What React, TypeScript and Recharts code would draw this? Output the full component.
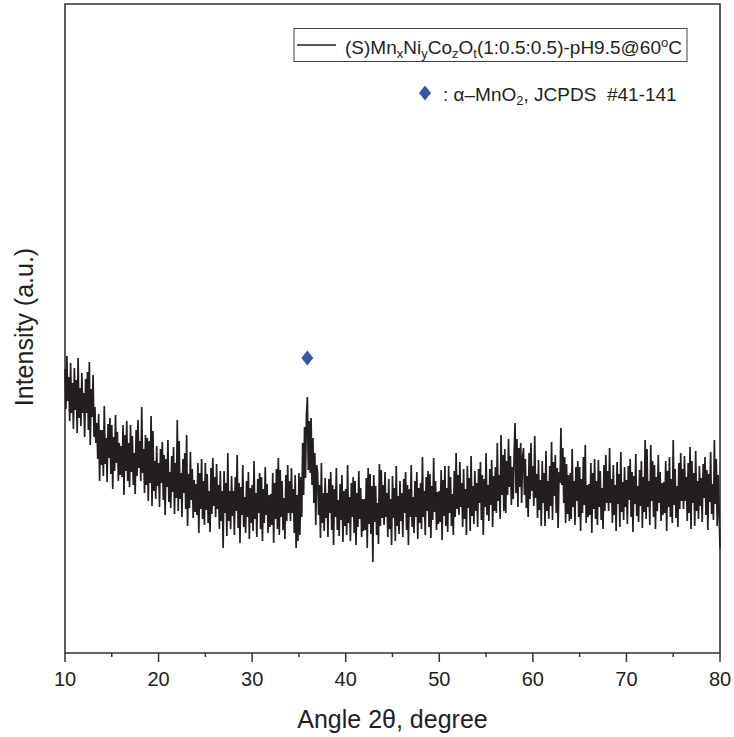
import React from "react";
import { ComposedChart, Line, XAxis, YAxis, ReferenceArea, ReferenceDot } from "recharts";

// Angle grid of the scan (degrees 2θ)
const angleStart = 10;
const angleStep = 0.1;

// Intensity (arbitrary units), one row per degree (x.0 … x.9)
const intensity: number[] = [
  284, 244, 297, 252, 276, 232, 290, 240, 270, 224,
  285, 243, 273, 220, 295, 235, 265, 227, 280, 240,
  260, 216, 274, 240, 281, 223, 291, 208, 264, 236,
  278, 216, 246, 210, 230, 194, 239, 172, 223, 188,
  223, 177, 247, 189, 215, 171, 229, 195, 235, 179,
  228, 164, 216, 182, 238, 190, 221, 172, 210, 178,
  207, 176, 228, 158, 218, 182, 232, 172, 210, 166,
  228, 181, 217, 168, 200, 159, 223, 177, 233, 185,
  212, 172, 246, 180, 204, 160, 218, 168, 215, 152,
  212, 170, 237, 147, 222, 162, 192, 154, 207, 167,
  190, 146, 204, 170, 211, 153, 198, 138, 194, 166,
  213, 151, 181, 145, 197, 161, 206, 139, 190, 155,
  233, 142, 212, 154, 180, 136, 194, 160, 200, 144,
  218, 127, 179, 145, 201, 153, 184, 135, 173, 141,
  169, 138, 190, 120, 180, 144, 194, 134, 172, 128,
  190, 143, 179, 130, 162, 121, 185, 139, 195, 147,
  176, 136, 189, 144, 168, 124, 182, 132, 162, 105,
  182, 140, 170, 117, 200, 132, 162, 124, 177, 137,
  162, 118, 176, 142, 198, 125, 170, 110, 166, 138,
  188, 126, 156, 120, 172, 136, 181, 114, 165, 130,
  168, 122, 192, 134, 160, 116, 174, 140, 180, 124,
  176, 112, 164, 130, 186, 138, 169, 120, 158, 126,
  159, 128, 180, 110, 170, 134, 184, 124, 195, 118,
  183, 136, 172, 123, 155, 114, 178, 132, 188, 140,
  172, 132, 185, 140, 164, 120, 178, 105, 158, 112,
  180, 118, 176, 136, 210, 158, 226, 175, 236, 256,
  183, 232, 180, 235, 168, 215, 150, 200, 128, 188,
  180, 138, 168, 115, 190, 130, 160, 122, 175, 135,
  160, 116, 174, 140, 181, 123, 168, 108, 164, 136,
  185, 123, 153, 117, 169, 133, 178, 111, 162, 127,
  164, 118, 188, 130, 156, 112, 170, 136, 176, 120,
  172, 108, 160, 126, 182, 134, 165, 116, 154, 122,
  154, 123, 175, 105, 185, 129, 179, 119, 167, 91,
  178, 131, 167, 118, 150, 109, 189, 127, 183, 135,
  168, 128, 181, 136, 160, 116, 174, 124, 154, 108,
  177, 135, 165, 112, 187, 127, 157, 119, 172, 132,
  160, 116, 174, 140, 181, 123, 168, 108, 164, 136,
  188, 126, 156, 120, 172, 136, 181, 114, 165, 130,
  170, 124, 196, 136, 162, 118, 176, 142, 182, 126,
  179, 115, 167, 133, 195, 141, 172, 123, 161, 129,
  162, 131, 183, 113, 173, 137, 187, 127, 165, 121,
  187, 140, 176, 127, 159, 118, 182, 136, 200, 144,
  178, 138, 191, 146, 170, 126, 184, 134, 164, 118,
  187, 145, 175, 122, 197, 137, 167, 129, 182, 142,
  170, 126, 184, 150, 191, 133, 178, 118, 174, 146,
  200, 138, 168, 132, 184, 148, 193, 126, 177, 142,
  186, 140, 210, 152, 178, 134, 218, 158, 198, 142,
  204, 140, 192, 158, 214, 166, 197, 148, 186, 154,
  200, 230, 160, 214, 146, 205, 166, 210, 150, 196,
  205, 158, 194, 145, 177, 136, 200, 154, 210, 162,
  187, 147, 217, 155, 179, 135, 193, 143, 173, 127,
  192, 150, 180, 127, 202, 142, 172, 134, 187, 147,
  211, 133, 191, 157, 198, 140, 185, 125, 181, 170,
  225, 168, 205, 150, 196, 130, 189, 139, 178, 132,
  180, 134, 204, 146, 172, 128, 186, 152, 192, 136,
  186, 122, 174, 140, 196, 148, 208, 130, 168, 136,
  169, 138, 190, 120, 180, 144, 194, 134, 172, 128,
  193, 146, 182, 133, 165, 124, 188, 142, 198, 150,
  182, 142, 205, 150, 174, 130, 188, 138, 168, 122,
  191, 149, 179, 126, 201, 141, 171, 133, 186, 146,
  173, 129, 187, 153, 194, 136, 181, 121, 177, 149,
  199, 137, 167, 131, 183, 147, 192, 125, 176, 141,
  213, 134, 204, 146, 172, 128, 208, 152, 192, 136,
  188, 124, 176, 142, 198, 150, 181, 132, 170, 138,
  171, 140, 192, 122, 182, 146, 196, 136, 174, 130,
  213, 148, 184, 135, 167, 126, 190, 144, 200, 152,
  184, 144, 197, 152, 176, 132, 190, 140, 206, 124,
  192, 150, 180, 127, 202, 142, 172, 134, 187, 147,
  175, 131, 189, 155, 196, 138, 183, 123, 179, 151,
  201, 139, 169, 133, 213, 149, 194, 127, 178, 143,
  105,
];

// α-MnO2 reference marker (JCPDS #41-141)
const markerAngles = [35.9];
const markerHeights = [295];

// Axis ticks
const xTicks = [10, 15, 20, 25, 30, 35, 40, 45, 50, 55, 60, 65, 70, 75, 80];
const xDomain = [10, 80];
const yDomain = [0, 649];

const trace = intensity.map((v, i) => ({
  angle: Math.round((angleStart + i * angleStep) * 10) / 10,
  v,
}));

const FONT = '"Liberation Sans", Arial, Helvetica, sans-serif';
const INK = "#231f20";
const BLUE = "#3a55a6";

const AxisTick = (props: any) => {
  const { x, y, payload } = props;
  const major = payload.value % 10 === 0;
  return (
    <g>
      <line x1={x} x2={x} y1={y} y2={y + (major ? 9 : 4)} stroke="#333" strokeWidth={1.5} />
      {major && (
        <text x={x} y={y + 33} textAnchor="middle" fontFamily={FONT} fontSize={20} fill={INK}>
          {payload.value}
        </text>
      )}
    </g>
  );
};

const Diamond = (props: any) => {
  const { cx, cy } = props;
  return (
    <path
      d={`M ${cx} ${cy - 7.5} L ${cx + 6} ${cy} L ${cx} ${cy + 7.5} L ${cx - 6} ${cy} Z`}
      fill={BLUE}
    />
  );
};

export default function App() {
  return (
    <div style={{ position: "absolute", left: 0, top: 0, width: 734, height: 737, background: "#fff" }}>
      <ComposedChart
        width={734}
        height={737}
        data={trace}
        margin={{ top: 4, right: 14, bottom: 54, left: 65 }}
      >
        <XAxis
          dataKey="angle"
          type="number"
          domain={xDomain}
          ticks={xTicks}
          interval={0}
          tick={<AxisTick />}
          tickLine={false}
          axisLine={false}
          tickSize={0}
          tickMargin={0}
          height={30}
        />
        <YAxis type="number" domain={yDomain} hide allowDataOverflow />
        <Line
          dataKey="v"
          type="linear"
          stroke={INK}
          strokeWidth={1.7}
          strokeLinejoin="miter"
          dot={false}
          activeDot={false}
          isAnimationActive={false}
        />
        <ReferenceArea
          x1={xDomain[0]}
          x2={xDomain[1]}
          y1={yDomain[0]}
          y2={yDomain[1]}
          fill="none"
          fillOpacity={0}
          stroke="#333"
          strokeWidth={1.6}
        />
        {markerAngles.map((a, i) => (
          <ReferenceDot key={i} x={a} y={markerHeights[i]} r={7} shape={<Diamond />} />
        ))}
      </ComposedChart>
      <svg
        width={734}
        height={737}
        style={{ position: "absolute", left: 0, top: 0, pointerEvents: "none" }}
      >
        {/* legend box */}
        <rect x={294} y={28.5} width={393} height={33} fill="#fff" stroke="#444" strokeWidth={1} />
        <line x1={297} x2={336} y1={45} y2={45} stroke={INK} strokeWidth={1.5} />
        <text x={345} y={54} fontFamily={FONT} fontSize={19} fill={INK}>
          (S)Mn
          <tspan fontSize={13} dy={4}>x</tspan>
          <tspan dy={-4}>Ni</tspan>
          <tspan fontSize={13} dy={4}>y</tspan>
          <tspan dy={-4}>Co</tspan>
          <tspan fontSize={13} dy={4}>z</tspan>
          <tspan dy={-4}>O</tspan>
          <tspan fontSize={13} dy={4}>t</tspan>
          <tspan dy={-4}>(1:0.5:0.5)-pH9.5@60</tspan>
          <tspan fontSize={13} dy={-7}>o</tspan>
          <tspan dy={7}>C</tspan>
        </text>
        <path d="M 425 85.5 L 431 93 L 425 100.5 L 419 93 Z" fill={BLUE} />
        <text x={443} y={101} fontFamily={FONT} fontSize={19} fill={INK} xmlSpace="preserve">
          : α–MnO
          <tspan fontSize={13} dy={4}>2</tspan>
          <tspan dy={-4}>, JCPDS  #41-141</tspan>
        </text>
        {/* axis titles */}
        <text x={392.5} y={728} textAnchor="middle" fontFamily={FONT} fontSize={25} fill={INK}>
          Angle 2θ, degree
        </text>
        <text
          transform="translate(33,327) rotate(-90)"
          textAnchor="middle"
          fontFamily={FONT}
          fontSize={25}
          fill={INK}
        >
          Intensity (a.u.)
        </text>
      </svg>
    </div>
  );
}
